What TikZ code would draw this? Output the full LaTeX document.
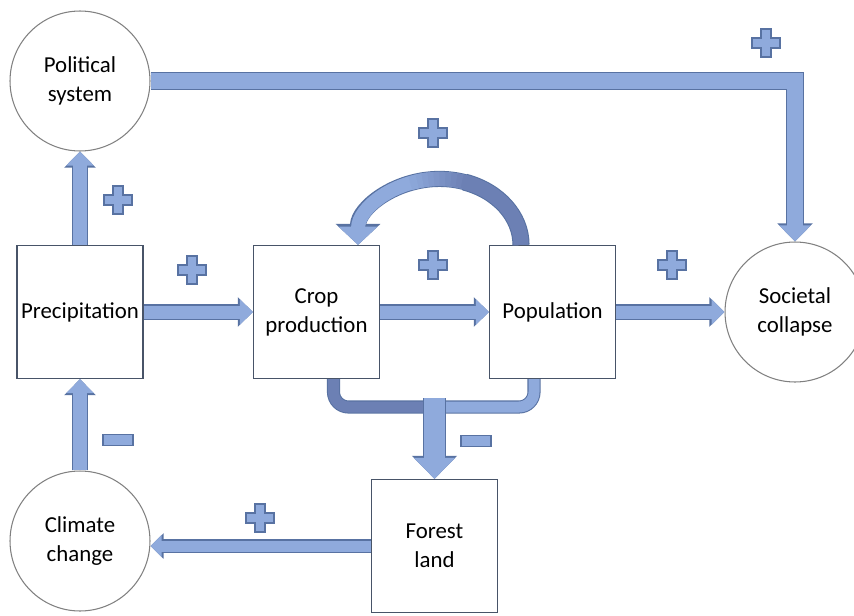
\documentclass[tikz,border=0pt]{standalone}
\usepackage{fontspec}
\setmainfont{Carlito}
\usetikzlibrary{arrows.meta}
\definecolor{arrowfill}{RGB}{143,170,220}
\definecolor{arrowline}{RGB}{88,114,162}
\definecolor{arrowdark}{RGB}{108,128,180}
\definecolor{boxline}{RGB}{72,84,104}
\definecolor{ringline}{RGB}{128,128,128}
\tikzset{
  box/.style={draw=boxline, line width=0.7pt, fill=white, minimum width=2.52cm,
    minimum height=2.66cm, inner sep=0pt, align=center, font=\fontsize{13}{16.5}\selectfont},
  ring/.style={circle, draw=ringline, line width=0.6pt, fill=white, minimum size=2.8cm,
    inner sep=0pt, align=center, font=\fontsize{13}{16.5}\selectfont},
  flow/.style={draw=arrowfill, line width=#1, -{Triangle[width=0pt 1.9,length=0pt 1]},
    preaction={draw=arrowline, line width=#1+1.2pt, -{Triangle[width=0pt 1.9,length=0pt 1]}}},
  flow/.default=0.26cm,
  loopflow/.style={draw=arrowfill, line width=0.28cm, -{Triangle[width=0pt 2.7,length=0pt 1.3]},
    preaction={draw=arrowline, line width=0.28cm+1.2pt, -{Triangle[width=0pt 2.7,length=0pt 1.3]}}},
  band/.style={draw=#1, line width=0.22cm, rounded corners=0.3cm,
    preaction={draw=arrowline, line width=0.22cm+1.2pt}},
  sign/.style={fill=arrowfill, draw=arrowline, line width=0.6pt}
}
\begin{document}
\begin{tikzpicture}[x=0.02cm, y=0.02cm]
\def\plussign{(-14,5) -- (-5,5) -- (-5,14) -- (5,14) -- (5,5) -- (14,5) -- (14,-5) -- (5,-5) -- (5,-14) -- (-5,-14) -- (-5,-5) -- (-14,-5) -- cycle}
\def\minussign{(-15,-5.5) rectangle (15,5.5)}
\useasboundingbox (0,0) rectangle (854,-615);
\clip (0,0) rectangle (854,-615);
% boxes and circles
\node[ring] (pol) at (80,-81) {Political\\system};
\node[box] (prec) at (80,-312) {Precipitation};
\node[ring] (clim) at (80,-541) {Climate\\change};
\node[box] (crop) at (316.5,-312) {Crop\\production};
\node[box] (pop) at (552.5,-312) {Population};
\node[ring] (soc) at (795,-312) {Societal\\collapse};
\node[box] (for) at (434.5,-546) {Forest\\land};
% straight arrows
\draw[flow] (prec.east) -- (crop.west);
\draw[flow] (crop.east) -- (pop.west);
\draw[flow] (pop.east) -- (soc.west);
\draw[flow=0.28cm] (prec.north) -- (pol.south);
\draw[flow=0.28cm] (clim.north) -- (prec.south);
\draw[flow=0.22cm] (for.west) -- (for.west -| clim.east);
\draw[flow=0.32cm] (pol.east) -| (soc.north);
% population back to crops
\coordinate (tail) at ([xshift=-0.63cm]pop.north);
\coordinate (ctr) at ([xshift=-1.63cm]tail);
\draw[loopflow] (tail) arc[start angle=0, end angle=180, x radius=1.63cm, y radius=1.32cm];
\draw[draw=arrowdark, line width=0.3cm, preaction={draw=arrowline, line width=0.3cm+1.2pt}]
  (tail) arc[start angle=0, end angle=72, x radius=1.63cm, y radius=1.32cm];
\foreach \a [evaluate=\a as \p using {int(100-(\a-70)*2.5)}] in {70,74,...,106}
  \draw[draw=arrowdark!\p!arrowfill, line width=0.28cm]
    ([shift={(\a:1.63cm and 1.32cm)}]ctr) arc[start angle=\a, end angle=\a+5, x radius=1.63cm, y radius=1.32cm];
% both feed the forest arrow
\coordinate (mrg) at (for.north |- 0,-407);
\draw[band=arrowdark] ([xshift=0.34cm]crop.south) |- (mrg);
\draw[band=arrowfill] (mrg) -| ([xshift=-0.37cm]pop.south);
\draw[flow=0.42cm] ([yshift=0.18cm]mrg) -- (for.north);
% signs
\foreach \x/\y in {766/-43, 433/-133, 118/-200, 192/-270, 433/-265, 672/-265, 260/-518}
  \draw[sign, shift={(\x,\y)}] \plussign;
\foreach \x/\y in {118/-440, 476/-441}
  \draw[sign, shift={(\x,\y)}] \minussign;
\end{tikzpicture}
\end{document}
